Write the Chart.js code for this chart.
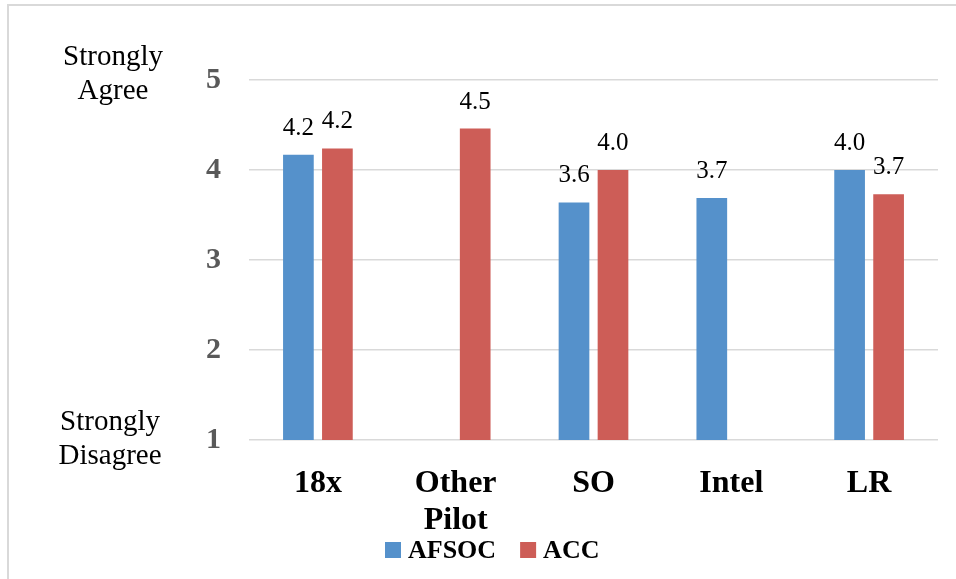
<!DOCTYPE html>
<html lang="en">

<head>
    <meta charset="UTF-8">
    <title>Survey chart</title>
    <script src="https://cdn.jsdelivr.net/npm/chart.js"></script>
    <style>
        body {
            margin: 0;
            background: #ffffff;
        }

        .moldura {
            position: absolute;
            left: 7px;
            top: 4px;
            width: 949px;
            height: 575px;
            border-left: 2px solid #d9d9d9;
            border-top: 2px solid #d9d9d9;
        }

        #grafico {
            position: absolute;
            left: 0;
            top: 0;
        }
    </style>
</head>

<body>

    <div class="moldura"></div>
    <canvas id="grafico" width="956" height="579"></canvas>

</body>

<script>

    // categories and values
    const categorias = ['18x', ['Other', 'Pilot'], 'SO', 'Intel', 'LR'];
    const afsoc = [4.17, null, 3.64, 3.69, 4.0];
    const acc = [4.24, 4.46, 4.0, null, 3.73];
    const ticksY = [1, 2, 3, 4, 5];

    const fonte = 'Liberation Serif, Times New Roman, serif';

    // values on top of the bars
    const rotulos = {
        id: 'rotulos',
        afterDatasetsDraw(chart) {
            const ctx = chart.ctx;
            ctx.save();
            ctx.font = '25px ' + fonte;
            ctx.fillStyle = '#000000';
            ctx.textAlign = 'center';
            ctx.textBaseline = 'alphabetic';
            chart.data.datasets.forEach(function (ds, i) {
                const meta = chart.getDatasetMeta(i);
                meta.data.forEach(function (barra, j) {
                    const valor = ds.data[j];
                    if (valor == null) return;
                    ctx.fillText(valor.toFixed(1), barra.x, barra.y - 20);
                });
            });
            ctx.restore();
        }
    };

    // "Strongly Agree" / "Strongly Disagree" and the legend under the axis
    const extras = {
        id: 'extras',
        afterDraw(chart) {
            const ctx = chart.ctx;
            const y = chart.scales.y;
            ctx.save();
            ctx.font = '29px ' + fonte;
            ctx.fillStyle = '#000000';
            ctx.textAlign = 'center';
            ctx.textBaseline = 'middle';
            const topo = y.getPixelForValue(5);
            ctx.fillText('Strongly', 113, topo - 23);
            ctx.fillText('Agree', 113, topo + 11);
            const base = y.getPixelForValue(1);
            ctx.fillText('Strongly', 110, base - 18);
            ctx.fillText('Disagree', 110, base + 16);

            // legend
            ctx.font = 'bold 26px ' + fonte;
            ctx.textAlign = 'left';
            let x = 385;
            const meio = 550;
            chart.data.datasets.forEach(function (ds) {
                ctx.fillStyle = ds.backgroundColor;
                ctx.fillRect(x, meio - 8, 16, 16);
                x += 23;
                ctx.fillStyle = '#000000';
                ctx.fillText(ds.label, x, meio + 1);
                x += ctx.measureText(ds.label).width + 24;
            });
            ctx.restore();
        }
    };

    const dados = {
        labels: categorias,
        datasets: [
            {
                label: 'AFSOC',
                data: afsoc,
                backgroundColor: '#5591cb'
            },
            {
                label: 'ACC',
                data: acc,
                backgroundColor: '#cd5d57'
            }
        ]
    };

    const config = {
        type: 'bar',
        data: dados,
        options: {
            responsive: false,
            devicePixelRatio: 1,
            animation: false,
            categoryPercentage: 0.566,
            barPercentage: 0.787,
            layout: {
                padding: { left: 40, right: 18, top: 80, bottom: 0 }
            },
            plugins: {
                tooltip: { enabled: false },
                legend: { display: false }
            },
            scales: {
                x: {
                    grid: { display: false },
                    border: { display: false },
                    ticks: {
                        color: '#000000',
                        padding: 18,
                        maxRotation: 0,
                        font: { family: fonte, size: 32, weight: 'bold', lineHeight: 1.13 }
                    },
                    afterFit(scale) {
                        scale.height = 139;
                    }
                },
                y: {
                    min: 1,
                    max: 5,
                    afterBuildTicks(scale) {
                        scale.ticks = ticksY.map(v => ({ value: v }));
                    },
                    grid: {
                        color: '#d9d9d9',
                        lineWidth: 1.5,
                        drawTicks: false
                    },
                    border: { display: false },
                    ticks: {
                        color: '#595959',
                        padding: 28,
                        font: { family: fonte, size: 30, weight: 'bold' }
                    },
                    afterFit(scale) {
                        scale.width = 209;
                    }
                }
            }
        },
        plugins: [rotulos, extras]
    };

    let grafico = new Chart(document.getElementById('grafico'), config);

</script>

</html>
